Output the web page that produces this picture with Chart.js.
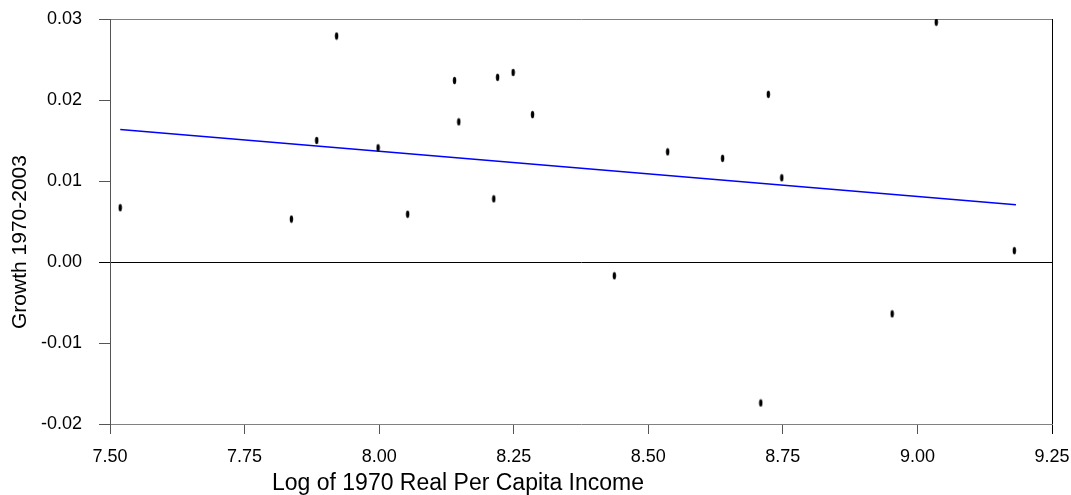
<!DOCTYPE html>
<html><head><meta charset="utf-8">
<script src="https://cdn.jsdelivr.net/npm/chart.js@4/dist/chart.umd.min.js"></script>
<style>html,body{margin:0;padding:0;background:#fff;overflow:hidden}#wrap{width:1071px;height:495px;position:relative}</style>
</head><body><div id="wrap"><canvas id="c"></canvas></div>
<script>
// Log of 1970 real per capita income
const incomeLog = [7.519, 7.837, 7.884, 7.921, 7.998, 8.053, 8.140, 8.148, 8.213, 8.220, 8.249,
                   8.285, 8.437, 8.536, 8.638, 8.709, 8.723, 8.748, 8.953, 9.035, 9.180];
// Growth 1970-2003
const growth = [0.0067, 0.0053, 0.0150, 0.0279, 0.0141, 0.0059, 0.0224, 0.0173, 0.0078, 0.0228, 0.0234,
                0.0182, -0.0017, 0.0136, 0.0128, -0.0174, 0.0207, 0.0104, -0.0064, 0.0296, 0.0014];
// fitted regression line (ends)
const fitX = [7.519, 9.183];
const fitY = [0.01637, 0.00706];
const xTicks = [7.50, 7.75, 8.00, 8.25, 8.50, 8.75, 9.00, 9.25];
const yTicks = [-0.02, -0.01, 0.00, 0.01, 0.02, 0.03];
const xTitle = 'Log of 1970 Real Per Capita Income';
const yTitle = 'Growth 1970-2003';

// ellipse marker
const mk = document.createElement('canvas');
mk.width = 5; mk.height = 9;
const mc = mk.getContext('2d');
mc.fillStyle = '#000';
mc.beginPath(); mc.ellipse(2.5, 4.5, 1.7, 3.7, 0, 0, Math.PI * 2); mc.fill();

const FONT = '"Liberation Sans", Arial, Helvetica, sans-serif';

const titles = {
  id: 'titles',
  afterDraw(chart) {
    const ctx = chart.ctx;
    ctx.save();
    ctx.fillStyle = '#000';
    ctx.textAlign = 'center';
    ctx.textBaseline = 'middle';
    ctx.font = '23px ' + FONT;
    ctx.fillText(xTitle, 458, 484);
    ctx.font = '21px ' + FONT;
    ctx.translate(20.5, 242);
    ctx.rotate(-Math.PI / 2);
    ctx.fillText(yTitle, 0, 0);
    ctx.restore();
  }
};

new Chart(document.getElementById('c'), {
  type: 'scatter',
  data: {
    datasets: [
      { data: incomeLog.map((x, i) => ({x, y: growth[i]})), pointStyle: mk, pointRadius: 4,
        showLine: false, order: 0 },
      { data: fitX.map((x, i) => ({x, y: fitY[i]})), showLine: true, borderColor: '#0000ff',
        borderWidth: 1.5, pointRadius: 0, fill: false, order: 1 }
    ]
  },
  options: {
    responsive: true, maintainAspectRatio: false, animation: false, devicePixelRatio: 1,
    layout: { padding: { top: 19, right: 19, left: 0, bottom: 0 } },
    plugins: { legend: { display: false }, tooltip: { enabled: false } },
    scales: {
      x: {
        type: 'linear', min: 7.5, max: 9.25,
        afterBuildTicks: s => { s.ticks = xTicks.map(v => ({value: v})); },
        afterFit: s => { s.height = 71; s.paddingLeft = 0; s.paddingRight = 0; },
        ticks: { callback: v => Number(v).toFixed(2), font: { size: 18, family: FONT }, color: '#000',
                 padding: 12, maxRotation: 0, autoSkip: false },
        grid: { drawOnChartArea: true, drawTicks: true, tickLength: 10,
                color: c => (c.tick && Math.abs(c.tick.value - 9.25) < 1e-9) ? '#000' : 'rgba(0,0,0,0)',
                tickColor: c => (c.tick && Math.abs(c.tick.value - 9.25) < 1e-9) ? '#000' : '#555' },
        border: { display: true, color: '#808080', width: 1 }
      },
      y: {
        type: 'linear', min: -0.02, max: 0.03,
        afterBuildTicks: s => { s.ticks = yTicks.map(v => ({value: v})); },
        afterFit: s => { s.width = 110; s.paddingTop = 0; s.paddingBottom = 0; },
        ticks: { callback: v => Number(v).toFixed(2), font: { size: 18, family: FONT }, color: '#000',
                 padding: 17, autoSkip: false },
        grid: { drawOnChartArea: true, drawTicks: true, tickLength: 11,
                color: c => {
                  if (!c.tick) return 'rgba(0,0,0,0)';
                  if (Math.abs(c.tick.value) < 1e-9) return '#000';
                  if (Math.abs(c.tick.value - 0.03) < 1e-9) return '#808080';
                  return 'rgba(0,0,0,0)';
                },
                tickColor: c => (c.tick && Math.abs(c.tick.value) < 1e-9) ? '#000' : '#555' },
        border: { display: true, color: '#555', width: 1 }
      }
    }
  },
  plugins: [titles]
});
</script>
</body></html>
